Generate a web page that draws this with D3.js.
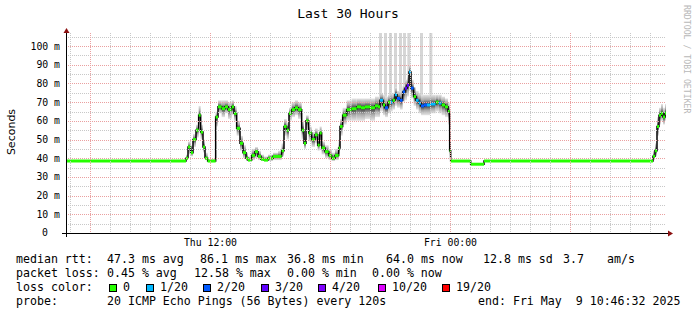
<!DOCTYPE html>
<html>
<head>
<meta charset="utf-8">
<script src="https://cdn.jsdelivr.net/npm/d3@7"></script>
<style>
body { margin: 0; background: #fff; }
svg { display: block; }
text { font-family: "DejaVu Sans Mono", monospace; fill: #000; white-space: pre; }
</style>
</head>
<body>
<svg id="chart" width="697" height="315"></svg>
<script>
// smokeping style graph: median rtt, smoke and loss colour, last 30 hours

var endTime = new Date(2025, 4, 9, 10, 46, 32);
var startTime = new Date(endTime.getTime() - 30 * 3600 * 1000);

// each sample holds until the next one (minutes after startTime)
var sampleMin = [0, 360, 366, 374, 381, 390, 398, 404, 411, 417,
    425, 449, 456, 467, 477, 486, 497, 504, 512, 522,
    531, 540, 546, 557, 567, 576, 585, 594, 606, 621,
    636, 647, 654, 662, 669, 677, 687, 696, 707, 714,
    720, 728, 737, 747, 755, 761, 767, 777, 788, 797,
    807, 818, 822, 830, 842, 857, 872, 885, 897, 912,
    927, 936, 942, 951, 957, 966, 972, 980, 987, 993,
    1002, 1010, 1017, 1023, 1029, 1035, 1043, 1050, 1058, 1065,
    1074, 1083, 1092, 1101, 1109, 1118, 1127, 1137, 1146, 1151,
    1154, 1214, 1254, 1761, 1767, 1773, 1779, 1785, 1791, 1797];
var medianMs = [38.5, 40, 46, 43, 50, 55, 63, 54, 46, 40,
    38.5, 62, 67.5, 66.5, 67.5, 66, 67.5, 64, 56, 48,
    43, 40, 39, 41.5, 43.5, 41, 39.5, 39, 40, 41,
    41, 44, 57, 55, 64, 66, 67, 66, 55, 48,
    60, 53.5, 50, 52.5, 47, 53.5, 45.5, 43.5, 41.5, 40,
    41.5, 45.5, 57, 63, 66, 66.5, 67.5, 67, 67.5, 67,
    68, 67.5, 71, 68.5, 67, 70, 70, 71, 74, 72,
    71, 75.5, 77.5, 79, 86.1, 77.5, 73, 71, 69.5, 68,
    68.5, 68.5, 69, 69, 70, 69.5, 68.5, 67.5, 65, 44,
    38.5, 36.8, 38.5, 41, 44, 57, 63, 64, 62, 64];
var smokeLoMs = [38.5, 39, 42, 41, 46, 51, 58, 50, 43, 39,
    38.5, 57, 64, 62, 64, 61, 63, 60, 52, 44,
    40, 38.5, 38.5, 39, 40, 39, 38.5, 38.5, 38.5, 39,
    39, 41, 52, 50, 60, 62, 63, 61, 50, 45,
    55, 49, 46, 48, 44, 49, 42, 40, 39, 38.5,
    39, 42, 52, 58, 60, 60, 60, 60, 61, 60,
    62, 62, 65, 63, 62, 64, 65, 66, 68, 67,
    66, 70, 71, 73, 76, 72, 68, 66, 64, 63,
    63, 63, 64, 64, 65, 64, 63, 62, 58, 40,
    38.5, 36.8, 38.5, 39, 41, 52, 58, 60, 58, 60];
var smokeHiMs = [38.5, 42, 49, 47, 53, 58, 68, 58, 50, 43,
    39.5, 65, 71, 71, 71, 70, 71, 68, 60, 52,
    47, 43, 41, 45, 46, 44, 42, 41, 42, 43,
    44, 48, 61, 59, 67, 70, 71, 70, 60, 53,
    63, 57, 54, 56, 51, 57, 49, 47, 45, 43,
    45, 50, 61, 67, 71, 72, 72, 72, 72, 72,
    73, 73, 75, 74, 73, 74, 75, 75, 78, 76,
    76, 79, 82, 84, 90, 82, 78, 76, 75, 74,
    74, 74, 74, 74, 74, 74, 73, 72, 70, 60,
    38.5, 36.8, 38.5, 44, 48, 62, 67, 69, 67, 69];
var lossCount = [0, 0, 0, 0, 0, 0, 0, 0, 0, 0,
    0, 0, 0, 0, 0, 0, 0, 0, 0, 0,
    0, 0, 0, 0, 0, 0, 0, 0, 0, 0,
    0, 0, 0, 0, 0, 0, 0, 0, 0, 0,
    0, 0, 0, 0, 0, 0, 0, 0, 0, 0,
    0, 0, 0, 0, 0, 0, 0, 0, 0, 0,
    0, 0, 1, 0, 2, 0, 1, 0, 1, 2,
    2, 2, 3, 3, 1, 2, 0, 1, 1, 2,
    2, 1, 1, 1, 0, 1, 0, 0, 0, 0,
    0, 0, 0, 0, 0, 0, 0, 0, 0, 0];

// slow pings that ran off the top of the graph (start minute, 9 min each)
var spikeMin = [939, 954, 969, 984, 999, 1011, 1024, 1062, 1090];
var spikeLen = 9;

var yTicks = [0, 10, 20, 30, 40, 50, 60, 70, 80, 90, 100];
var lossSteps = [0, 1, 2, 3, 4, 10, 19];
var lossLabels = ["0", "1/20", "2/20", "3/20", "4/20", "10/20", "19/20"];
var lossColors = ["#26ff00", "#00b8ff", "#0059ff", "#5e00ff", "#7e00ff", "#dd00ff", "#ff0000"];

var svg = d3.select("#chart");

var plot = { left: 66, right: 666, top: 33, bottom: 233 };

var x = d3.scaleTime().domain([startTime, endTime]).range([plot.left, plot.right]);
var y = d3.scaleLinear().domain([0, 107]).range([plot.bottom, plot.top]);

function atMin(m) {
    return new Date(startTime.getTime() + m * 60000);
}
function lossColor(n) {
    var c = lossColors[0];
    lossSteps.forEach((s, i) => { if (n >= s) c = lossColors[i]; });
    return c;
}

var samples = sampleMin.map((m, i) => ({
    t0: atMin(m),
    t1: i + 1 < sampleMin.length ? atMin(sampleMin[i + 1]) : endTime,
    med: medianMs[i],
    lo: smokeLoMs[i],
    hi: smokeHiMs[i],
    loss: lossCount[i]
}));

var defs = svg.append("defs");
defs.append("clipPath").attr("id", "clip")
    .append("rect")
    .attr("x", plot.left).attr("y", plot.top)
    .attr("width", plot.right - plot.left).attr("height", plot.bottom - plot.top);

// title
svg.append("text")
    .attr("x", 348).attr("y", 18)
    .attr("text-anchor", "middle")
    .style("font-size", "13px")
    .text("Last 30 Hours");

// vertical label
svg.append("text")
    .attr("transform", "translate(15,132) rotate(-90)")
    .attr("text-anchor", "middle")
    .style("font-family", "'DejaVu Sans', sans-serif")
    .style("font-size", "11px")
    .text("Seconds");

// watermark
svg.append("text")
    .attr("transform", "translate(684,5) rotate(90)")
    .style("font-size", "8.2px")
    .style("fill", "#b8b8b8")
    .text("RRDTOOL / TOBI OETIKER");

var g = svg.append("g").attr("clip-path", "url(#clip)");

// spikes
g.append("g").selectAll("rect")
    .data(spikeMin)
    .enter()
    .append("rect")
    .attr("x", d => x(atMin(d)))
    .attr("width", d => x(atMin(d + spikeLen)) - x(atMin(d)))
    .attr("y", plot.top)
    .attr("height", d => {
        var s = samples.filter(p => p.t0 <= atMin(d)).pop();
        return y(s.med) - plot.top;
    })
    .attr("fill", "#d6d6d6");

// smoke
var smoke = samples.filter(d => d.hi > d.lo);
smoke.forEach((d, i) => {
    var grad = defs.append("linearGradient")
        .attr("id", "sm" + i)
        .attr("x1", 0).attr("y1", 0).attr("x2", 0).attr("y2", 1);
    var p = (d.hi - d.med) / (d.hi - d.lo);
    grad.append("stop").attr("offset", 0).attr("stop-color", "#e6e6e6");
    grad.append("stop").attr("offset", p * 0.5).attr("stop-color", "#a8a8a8");
    grad.append("stop").attr("offset", p).attr("stop-color", "#2a2a2a");
    grad.append("stop").attr("offset", p + (1 - p) * 0.5).attr("stop-color", "#a8a8a8");
    grad.append("stop").attr("offset", 1).attr("stop-color", "#e6e6e6");
});
g.append("g").selectAll("rect")
    .data(smoke)
    .enter()
    .append("rect")
    .attr("x", d => x(d.t0))
    .attr("width", d => x(d.t1) - x(d.t0))
    .attr("y", d => y(d.hi))
    .attr("height", d => y(d.lo) - y(d.hi))
    .attr("fill", (d, i) => `url(#sm${i})`);

// grid
var minorY = d3.range(5, 106, 5).filter(v => v % 10 != 0);
var majorY = yTicks.filter(v => v > 0);
var grid = svg.append("g").attr("fill", "none").attr("stroke-dasharray", "1,1");
grid.selectAll("line.ym")
    .data(minorY)
    .enter()
    .append("line")
    .attr("x1", plot.left).attr("x2", plot.right)
    .attr("y1", d => Math.round(y(d)) + 0.5).attr("y2", d => Math.round(y(d)) + 0.5)
    .attr("stroke", "#c8c8c8");
var hours = d3.timeHour.every(1).range(startTime, endTime);
grid.selectAll("line.xm")
    .data(hours.filter(d => d.getHours() % 6 != 0))
    .enter()
    .append("line")
    .attr("x1", d => Math.round(x(d)) + 0.5).attr("x2", d => Math.round(x(d)) + 0.5)
    .attr("y1", plot.top).attr("y2", plot.bottom)
    .attr("stroke", "#c8c8c8");
grid.selectAll("line.yM")
    .data(majorY)
    .enter()
    .append("line")
    .attr("x1", plot.left).attr("x2", plot.right)
    .attr("y1", d => Math.round(y(d)) + 0.5).attr("y2", d => Math.round(y(d)) + 0.5)
    .attr("stroke", "#eaa0a0");
grid.selectAll("line.xM")
    .data(hours.filter(d => d.getHours() % 6 == 0))
    .enter()
    .append("line")
    .attr("x1", d => Math.round(x(d)) + 0.5).attr("x2", d => Math.round(x(d)) + 0.5)
    .attr("y1", plot.top).attr("y2", plot.bottom)
    .attr("stroke", "#eaa0a0");

// median line
var stepLine = d3.line()
    .x(d => x(d.t))
    .y(d => y(d.v))
    .curve(d3.curveStepAfter);
var pts = samples.map(d => ({ t: d.t0, v: d.med }));
pts.push({ t: endTime, v: medianMs[medianMs.length - 1] });
g.append("path")
    .attr("d", stepLine(pts))
    .attr("fill", "none")
    .attr("stroke", "#000")
    .attr("stroke-width", 1.5);

g.append("g").selectAll("line")
    .data(samples)
    .enter()
    .append("line")
    .attr("x1", d => x(d.t0))
    .attr("x2", d => x(d.t1))
    .attr("y1", d => y(d.med))
    .attr("y2", d => y(d.med))
    .attr("stroke", d => lossColor(d.loss))
    .attr("stroke-width", 3);

// axes
svg.append("line")
    .attr("x1", 62).attr("x2", 668)
    .attr("y1", plot.bottom + 0.5).attr("y2", plot.bottom + 0.5)
    .attr("stroke", "#000");
svg.append("line")
    .attr("x1", plot.left + 0.5).attr("x2", plot.left + 0.5)
    .attr("y1", 237).attr("y2", 31)
    .attr("stroke", "#000");
svg.append("path")
    .attr("d", "M668,230.5L673,233.5L668,236.5Z")
    .attr("fill", "#8b1010");
svg.append("path")
    .attr("d", "M63.5,33L66.5,28L69.5,33Z")
    .attr("fill", "#8b1010");

// y labels
svg.append("g").selectAll("text")
    .data(yTicks)
    .enter()
    .append("text")
    .attr("x", d => d == 0 ? 48 : 60)
    .attr("y", d => y(d))
    .attr("dy", "0.35em")
    .attr("text-anchor", "end")
    .style("font-size", "9.8px")
    .text(d => d == 0 ? "0" : d + " m");

// x labels
var fmt = d3.timeFormat("%a %H:%M");
svg.append("g").selectAll("text")
    .data(hours.filter(d => d.getHours() % 12 == 0))
    .enter()
    .append("text")
    .attr("x", d => x(d))
    .attr("y", 246)
    .attr("text-anchor", "middle")
    .style("font-size", "9.8px")
    .text(d => fmt(d));

// legend
var legend = svg.append("g").style("font-size", "11.6px");
function put(tx, ty, s) {
    legend.append("text").attr("x", tx).attr("y", ty).text(s);
}
put(16, 263, "median rtt:");
put(107, 263, "47.3 ms avg");
put(200, 263, "86.1 ms max");
put(287, 263, "36.8 ms min");
put(386, 263, "64.0 ms now");
put(483, 263, "12.8 ms sd");
put(563, 263, "3.7");
put(607, 263, "am/s");

put(16, 277, "packet loss:");
put(107, 277, "0.45 % avg");
put(194, 277, "12.58 % max");
put(287, 277, "0.00 % min");
put(372, 277, "0.00 % now");

put(16, 291, "loss color:");
var boxX = [109, 146, 203, 261, 318, 378, 442];
lossLabels.forEach((l, i) => {
    legend.append("rect")
        .attr("x", boxX[i] + 0.5).attr("y", 284.5)
        .attr("width", 7).attr("height", 7)
        .attr("fill", lossColors[i])
        .attr("stroke", "#000");
    put(boxX[i] + 14, 291, l);
});

put(16, 305, "probe:");
put(107, 305, "20 ICMP Echo Pings (56 Bytes) every 120s");
put(478, 305, "end: Fri May  9 10:46:32 2025");
</script>
</body>
</html>
